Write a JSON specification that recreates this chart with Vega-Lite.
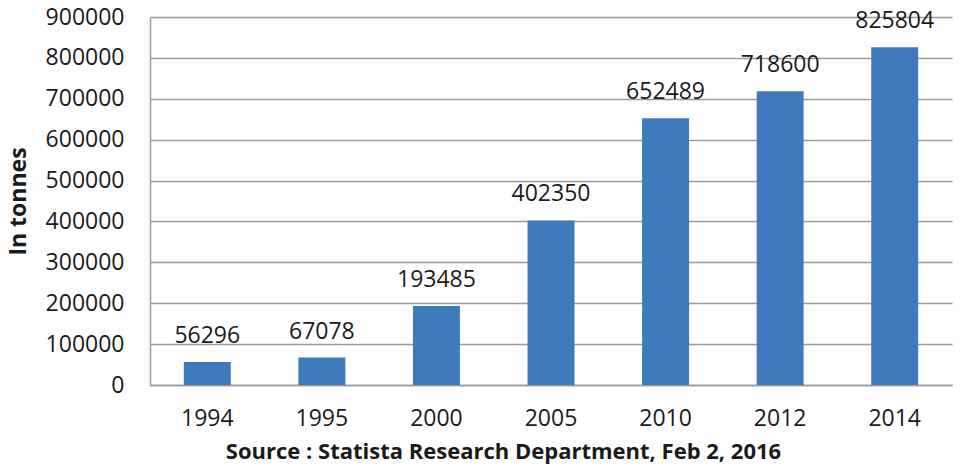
{
  "$schema": "https://vega.github.io/schema/vega-lite/v6.json",
  "autosize": {"type": "none"},
  "padding": {"left": 150, "top": 17, "right": 8, "bottom": 85},
  "width": 802,
  "height": 368,
  "background": "white",
  "config": {
    "view": {"stroke": null},
    "font": "Open Sans"
  },
  "data": {
    "values": [
      {"year": "1994", "value": 56296},
      {"year": "1995", "value": 67078},
      {"year": "2000", "value": 193485},
      {"year": "2005", "value": 402350},
      {"year": "2010", "value": 652489},
      {"year": "2012", "value": 718600},
      {"year": "2014", "value": 825804}
    ]
  },
  "encoding": {
    "x": {
      "field": "year",
      "type": "nominal",
      "sort": null,
      "scale": {"paddingInner": 0.59, "paddingOuter": 0.295},
      "axis": {
        "title": "Source : Statista Research Department, Feb 2, 2016",
        "titleFont": "Open Sans",
        "titleFontWeight": "bold",
        "titleFontSize": 22,
        "titleColor": "#1a1a1a",
        "titleX": 353,
        "titleAlign": "center",
        "titlePadding": 11,
        "labelAngle": 0,
        "labelFont": "Open Sans",
        "labelFontSize": 23,
        "labelColor": "#1a1a1a",
        "labelPadding": 22,
        "ticks": false,
        "domainColor": "#9a9a9a",
        "domainWidth": 1.5
      }
    },
    "y": {
      "field": "value",
      "type": "quantitative",
      "scale": {"domain": [0, 900000], "nice": false},
      "axis": {
        "title": "In tonnes",
        "titleFont": "Open Sans",
        "titleFontWeight": "bold",
        "titleFontSize": 23,
        "titleColor": "#1a1a1a",
        "titleX": -120,
        "titleY": 184,
        "values": [0, 100000, 200000, 300000, 400000, 500000, 600000, 700000, 800000, 900000],
        "format": "d",
        "labelFont": "Open Sans",
        "labelFontSize": 23,
        "labelColor": "#1a1a1a",
        "labelPadding": 26,
        "ticks": false,
        "domainColor": "#9a9a9a",
        "domainWidth": 1.5,
        "gridColor": "#9a9a9a",
        "gridWidth": 1.5
      }
    }
  },
  "layer": [
    {"mark": {"type": "bar", "color": "#3f7abd"}},
    {
      "mark": {"type": "text", "baseline": "alphabetic", "dy": -19, "fontSize": 23, "font": "Open Sans", "color": "#1a1a1a"},
      "encoding": {"text": {"field": "value", "type": "quantitative", "format": "d"}}
    }
  ]
}
